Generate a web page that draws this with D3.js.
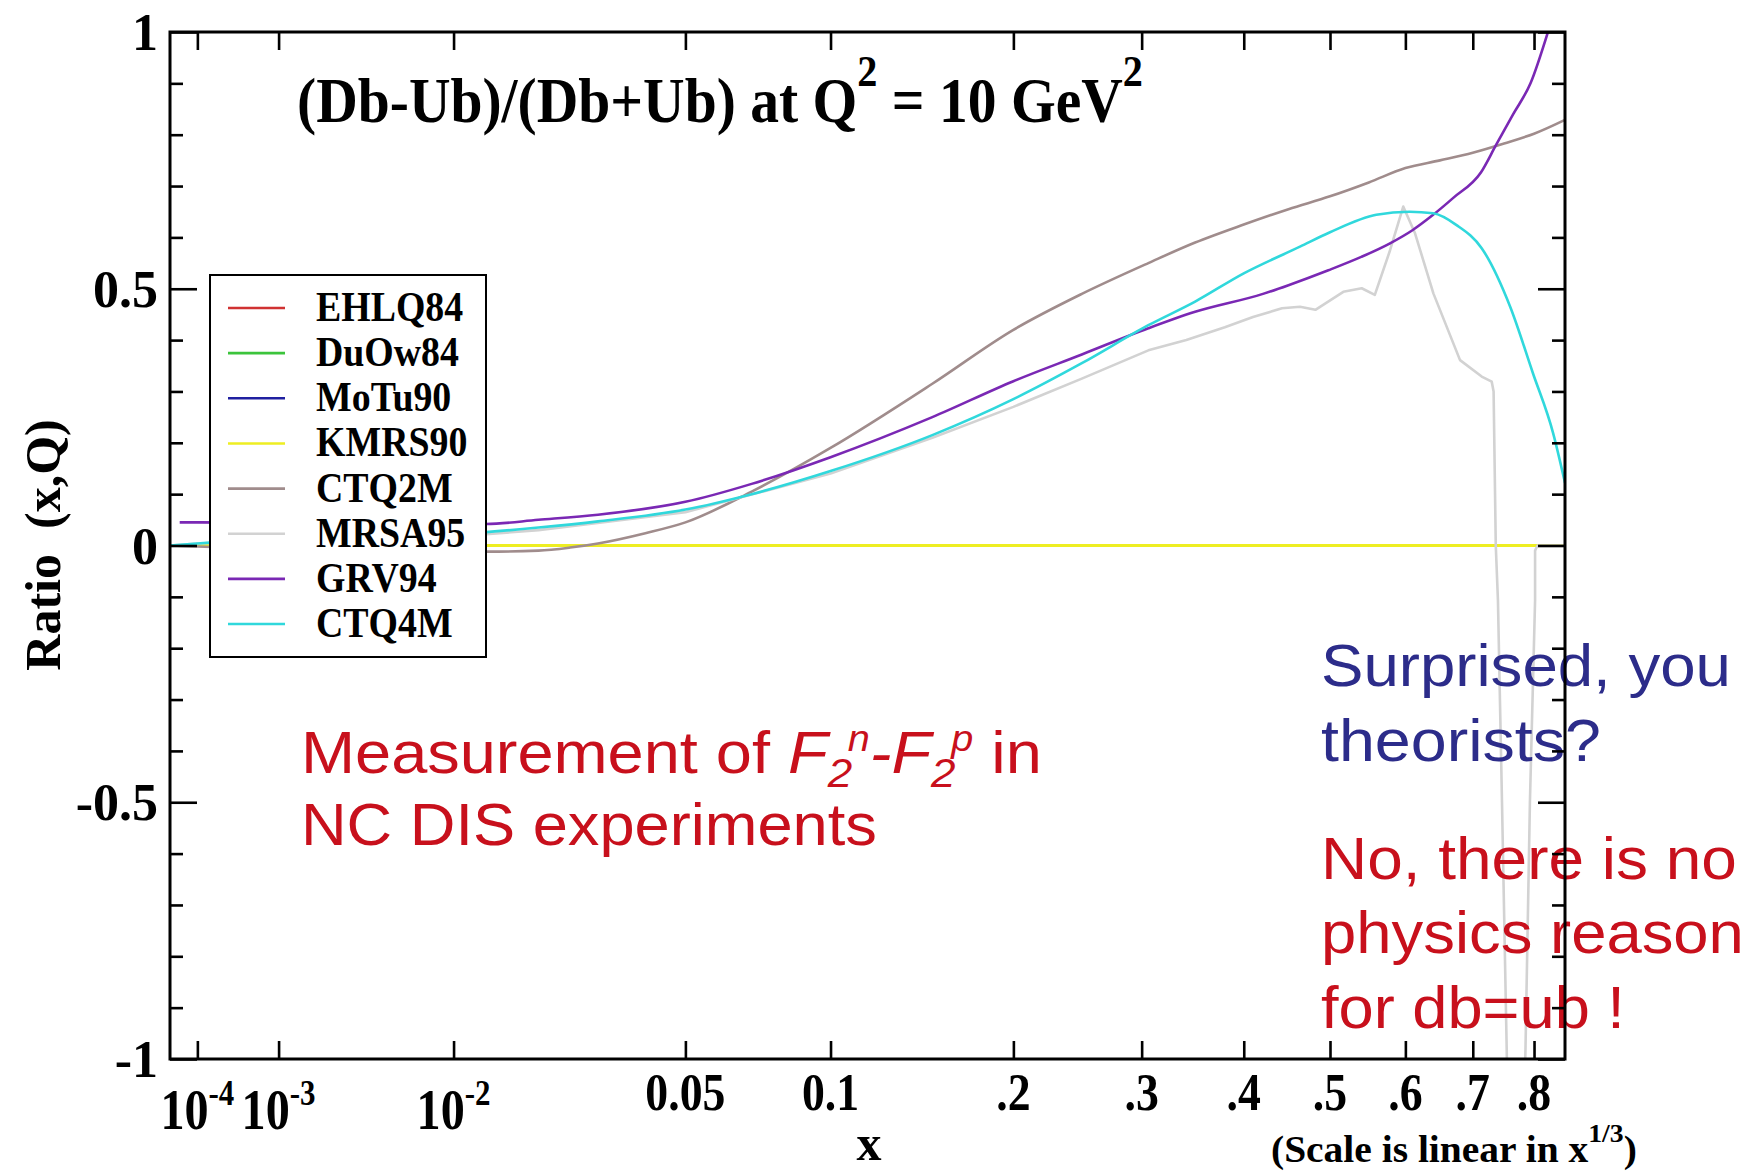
<!DOCTYPE html>
<html>
<head>
<meta charset="utf-8">
<script src="https://cdn.jsdelivr.net/npm/d3@7"></script>
<style>
  html, body { margin: 0; padding: 0; background: #fff; }
  svg { display: block; }
</style>
</head>
<body>
<svg id="chart" width="1748" height="1172"></svg>
<script>
// ---------------- data ----------------
const seriesNames = ["EHLQ84", "DuOw84", "MoTu90", "KMRS90", "CTQ2M", "MRSA95", "GRV94", "CTQ4M"];

// symmetric-sea parametrisations: ratio is identically zero
const ehlq84X = [2.28e-5, 0.854];
const ehlq84R = [0, 0];
const duow84X = [2.28e-5, 0.854];
const duow84R = [0, 0];
const motu90X = [2.28e-5, 0.854];
const motu90R = [0, 0];
const kmrs90X = [2.28e-5, 0.854];
const kmrs90R = [0, 0];

const ctq2mX = [2.28e-5, 1e-4, 0.0133, 0.02, 0.025, 0.03, 0.04, 0.05, 0.07, 0.1, 0.15, 0.2, 0.25, 0.306,
                0.35, 0.4, 0.45, 0.5, 0.55, 0.6, 0.65, 0.7, 0.75, 0.8, 0.854];
const ctq2mR = [0.0, -0.002, -0.012, -0.01, -0.004, 0.004, 0.024, 0.045, 0.105, 0.19, 0.315, 0.42, 0.49, 0.55,
                0.59, 0.625, 0.655, 0.68, 0.707, 0.735, 0.75, 0.765, 0.783, 0.802, 0.829];

const mrsa95X = [2.28e-5, 1e-4, 0.0133, 0.02, 0.05, 0.1, 0.15, 0.2, 0.25, 0.306, 0.3414, 0.38, 0.41, 0.4425,
                 0.4635, 0.482, 0.5168, 0.5406, 0.558, 0.5787, 0.597, 0.6137, 0.6403, 0.6803, 0.714, 0.730,
                 0.733, 0.7365, 0.740, 0.7466, 0.7543, 0.756, 0.783, 0.7855, 0.793, 0.8018, 0.8018, 0.806, 0.854];
const mrsa95R = [0.0, 0.004, 0.022, 0.03, 0.065, 0.14, 0.21, 0.27, 0.325, 0.38, 0.40, 0.425, 0.445, 0.462,
                 0.465, 0.459, 0.494, 0.501, 0.488, 0.575, 0.66, 0.608, 0.491, 0.361, 0.329, 0.319,
                 0.30, 0.0, -0.106, -0.5, -0.982, -1.1, -1.1, -0.982, -0.5, -0.106, -0.01, 0, 0];

const grv94X = [4.2e-5, 1e-4, 1e-3, 0.005, 0.0133, 0.02, 0.03, 0.05, 0.07, 0.1, 0.15, 0.2, 0.25, 0.306, 0.35,
                0.421, 0.45, 0.498, 0.54, 0.578, 0.61, 0.639, 0.67, 0.713, 0.737, 0.765, 0.794, 0.824, 0.84];
const grv94R = [0.045, 0.045, 0.044, 0.043, 0.042, 0.05, 0.06, 0.085, 0.12, 0.172, 0.25, 0.32, 0.372, 0.423, 0.455,
                0.49, 0.507, 0.536, 0.562, 0.588, 0.614, 0.643, 0.677, 0.727, 0.78, 0.84, 0.9, 1.0, 1.06];

const ctq4mX = [2.28e-5, 1e-4, 0.0133, 0.02, 0.03, 0.05, 0.07, 0.1, 0.15, 0.2, 0.25, 0.306, 0.35, 0.4, 0.4635,
                0.5, 0.56, 0.606, 0.64, 0.675, 0.714, 0.76, 0.798, 0.833, 0.854];
const ctq4mR = [0.0, 0.004, 0.026, 0.035, 0.047, 0.07, 0.1, 0.145, 0.215, 0.285, 0.355, 0.429, 0.475, 0.53, 0.582,
                0.61, 0.644, 0.65, 0.647, 0.624, 0.579, 0.465, 0.336, 0.219, 0.122];

const xTicks = [1e-4, 1e-3, 1e-2, 0.05, 0.1, 0.2, 0.3, 0.4, 0.5, 0.6, 0.7, 0.8];
const xTickLabels = ["10^-4", "10^-3", "10^-2", "0.05", "0.1", ".2", ".3", ".4", ".5", ".6", ".7", ".8"];
const yMajorTicks = [-1, -0.5, 0, 0.5, 1];
const yTickLabels = ["-1", "-0.5", "0", "0.5", "1"];
const yMinorTicks = d3.range(-9, 10).filter(i => i % 5 !== 0).map(i => i / 10);

const seriesX = [ehlq84X, duow84X, motu90X, kmrs90X, ctq2mX, mrsa95X, grv94X, ctq4mX];
const seriesR = [ehlq84R, duow84R, motu90R, kmrs90R, ctq2mR, mrsa95R, grv94R, ctq4mR];

// ---------------- styles ----------------
const lineColor = {
  EHLQ84: "#d03232", DuOw84: "#3cc43c", MoTu90: "#2020a0", KMRS90: "#eeee22",
  CTQ2M: "#a08c8c", MRSA95: "#d2d2d2", GRV94: "#7a28b4", CTQ4M: "#30d8dc"
};
const serif = "'Liberation Serif', 'Times New Roman', serif";
const sans = "'Liberation Sans', Arial, sans-serif";
const noteRed = "#c8101c";
const noteBlue = "#2c2c8a";

// ---------------- layout ----------------
const plot = { left: 170, right: 1565, top: 32, bottom: 1059 };

const x = d3.scalePow().exponent(1 / 3).domain([2.28e-5, 0.854]).range([plot.left, plot.right]);
const y = d3.scaleLinear().domain([-1, 1]).range([plot.bottom, plot.top]);

const svg = d3.select("#chart");
svg.append("rect").attr("width", 1748).attr("height", 1172).attr("fill", "#fff");

svg.append("clipPath").attr("id", "plotClip")
  .append("rect")
  .attr("x", plot.left).attr("y", plot.top)
  .attr("width", plot.right - plot.left).attr("height", plot.bottom - plot.top);

// ---------------- curves ----------------
const curves = svg.append("g").attr("clip-path", "url(#plotClip)");
seriesNames.forEach((name, i) => {
  const pts = seriesX[i].map((v, k) => [v, seriesR[i][k]]);
  const gen = d3.line()
    .x(d => x(d[0]))
    .y(d => y(d[1]))
    .curve(name === "MRSA95" ? d3.curveLinear : d3.curveMonotoneX);
  curves.append("path")
    .attr("d", gen(pts))
    .attr("fill", "none")
    .attr("stroke", lineColor[name])
    .attr("stroke-width", name === "KMRS90" ? 3 : 2.6)
    .attr("stroke-linejoin", "round");
});

// ---------------- legend ----------------
const legend = svg.append("g");
legend.append("rect")
  .attr("x", 210).attr("y", 275).attr("width", 276).attr("height", 382)
  .attr("fill", "#fff").attr("stroke", "#000").attr("stroke-width", 2);
seriesNames.forEach((name, i) => {
  const ly = 308 + i * 45.15;
  legend.append("line")
    .attr("x1", 228).attr("x2", 285).attr("y1", ly).attr("y2", ly)
    .attr("stroke", lineColor[name]).attr("stroke-width", 2.6);
  legend.append("text")
    .attr("x", 316).attr("y", ly + 13)
    .attr("font-family", serif).attr("font-weight", "bold").attr("font-size", 43)
    .attr("transform", `translate(316,0) scale(0.88,1) translate(-316,0)`)
    .text(name);
});

// ---------------- helpers ----------------
function fitWidth(sel, x0, width) {
  const w = sel.node().getBBox().width;
  sel.attr("transform", `translate(${x0},0) scale(${width / w},1) translate(${-x0},0)`);
}

// ---------------- annotations ----------------
function note(txt, x0, yb, width, color) {
  const t = svg.append("text")
    .attr("x", x0).attr("y", yb)
    .attr("font-family", sans).attr("font-size", 59).attr("fill", color)
    .text(txt);
  fitWidth(t, x0, width);
  return t;
}

const meas = svg.append("text")
  .attr("x", 301).attr("y", 773)
  .attr("font-family", sans).attr("font-size", 59).attr("fill", noteRed);
meas.append("tspan").text("Measurement of ");
meas.append("tspan").attr("font-style", "italic").text("F");
meas.append("tspan").attr("font-style", "italic").attr("font-size", 40).attr("dy", 14).text("2");
meas.append("tspan").attr("font-style", "italic").attr("font-size", 36).attr("dx", -4).attr("dy", -36).text("n");
meas.append("tspan").attr("font-style", "italic").attr("dy", 22).text("-F");
meas.append("tspan").attr("font-style", "italic").attr("font-size", 40).attr("dy", 14).text("2");
meas.append("tspan").attr("font-style", "italic").attr("font-size", 36).attr("dx", -4).attr("dy", -36).text("p");
meas.append("tspan").attr("dy", 22).text(" in");
fitWidth(meas, 301, 741);

note("NC DIS experiments", 301, 845, 576, noteRed);
note("Surprised, you", 1321, 686, 410, noteBlue);
note("theorists?", 1321, 761, 280, noteBlue);
note("No, there is no", 1321, 879, 416, noteRed);
note("physics reason", 1321, 953, 423, noteRed);
note("for db=ub !", 1321, 1028, 304, noteRed);

// ---------------- title ----------------
const title = svg.append("text")
  .attr("x", 297).attr("y", 122)
  .attr("font-family", serif).attr("font-weight", "bold").attr("font-size", 63).attr("fill", "#000");
title.append("tspan").text("(Db-Ub)/(Db+Ub) at Q");
title.append("tspan").attr("font-size", 44).attr("dy", -36).text("2");
title.append("tspan").attr("dy", 36).text(" = 10 GeV");
title.append("tspan").attr("font-size", 44).attr("dy", -36).text("2");
fitWidth(title, 297, 846);

// ---------------- axes ----------------
const axisStyle = g => {
  g.select(".domain").remove();
  g.selectAll(".tick line").attr("stroke", "#000").attr("stroke-width", 2.6);
};

svg.append("g").attr("transform", `translate(0,${plot.bottom})`)
  .call(d3.axisBottom(x).tickValues(xTicks).tickSize(-18).tickFormat(""))
  .call(axisStyle);
svg.append("g").attr("transform", `translate(0,${plot.top})`)
  .call(d3.axisTop(x).tickValues(xTicks).tickSize(-18).tickFormat(""))
  .call(axisStyle);

svg.append("g").attr("transform", `translate(${plot.left},0)`)
  .call(d3.axisLeft(y).tickValues(yMinorTicks).tickSize(-13).tickFormat(""))
  .call(axisStyle);
const yLeft = svg.append("g").attr("transform", `translate(${plot.left},0)`)
  .call(d3.axisLeft(y).tickValues(yMajorTicks).tickSize(-27).tickPadding(12)
    .tickFormat((d, i) => yTickLabels[i]))
  .call(axisStyle);
yLeft.selectAll(".tick text")
  .attr("font-family", serif).attr("font-weight", "bold").attr("font-size", 52)
  .attr("fill", "#000").attr("dy", "0.34em");

svg.append("g").attr("transform", `translate(${plot.right},0)`)
  .call(d3.axisRight(y).tickValues(yMinorTicks).tickSize(-13).tickFormat(""))
  .call(axisStyle);
svg.append("g").attr("transform", `translate(${plot.right},0)`)
  .call(d3.axisRight(y).tickValues(yMajorTicks).tickSize(-27).tickFormat(""))
  .call(axisStyle);

svg.append("rect")
  .attr("x", plot.left).attr("y", plot.top)
  .attr("width", plot.right - plot.left).attr("height", plot.bottom - plot.top)
  .attr("fill", "none").attr("stroke", "#000").attr("stroke-width", 3);

// x tick labels (powers of ten carry a superscript)
const xLab = svg.append("g")
  .attr("font-family", serif).attr("font-weight", "bold").attr("fill", "#000");
xTicks.forEach((t, i) => {
  const lbl = xTickLabels[i];
  const cx = x(t);
  if (lbl.includes("^")) {
    const [base, exp] = lbl.split("^");
    const tx = xLab.append("text")
      .attr("x", cx).attr("y", 1129).attr("text-anchor", "middle")
      .attr("transform", `translate(${cx},0) scale(0.86,1) translate(${-cx},0)`);
    tx.append("tspan").attr("font-size", 56).text(base);
    tx.append("tspan").attr("font-size", 36).attr("dy", -24).text(exp);
  } else {
    xLab.append("text")
      .attr("x", cx).attr("y", 1110).attr("text-anchor", "middle")
      .attr("font-size", 52)
      .attr("transform", `translate(${cx},0) scale(0.88,1) translate(${-cx},0)`)
      .text(lbl);
  }
});

// axis titles
svg.append("text")
  .attr("transform", "translate(60,545) rotate(-90)")
  .attr("text-anchor", "middle")
  .attr("font-family", serif).attr("font-weight", "bold").attr("font-size", 50)
  .attr("xml:space", "preserve")
  .text("Ratio  (x,Q)");

svg.append("text")
  .attr("x", 869).attr("y", 1160).attr("text-anchor", "middle")
  .attr("font-family", serif).attr("font-weight", "bold").attr("font-size", 50)
  .text("x");

const scaleNote = svg.append("text")
  .attr("x", 1271).attr("y", 1162)
  .attr("font-family", serif).attr("font-weight", "bold").attr("font-size", 37);
scaleNote.append("tspan").text("(Scale is linear in x");
scaleNote.append("tspan").attr("font-size", 26).attr("dy", -20).text("1/3");
scaleNote.append("tspan").attr("dy", 20).text(")");
fitWidth(scaleNote, 1271, 366);
</script>
</body>
</html>
